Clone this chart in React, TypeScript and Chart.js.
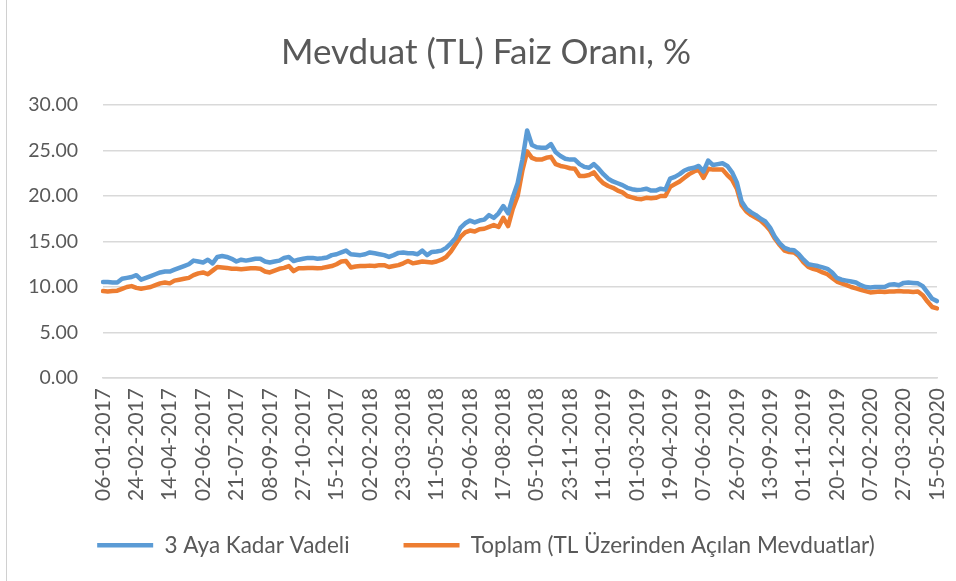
import React, { useEffect, useRef } from "react";
import { Chart, registerables } from "chart.js";

Chart.register(...registerables);

const TITLE = "Mevduat (TL) Faiz Oranı, %";
const SERIES_NAMES = ["3 Aya Kadar Vadeli", "Toplam (TL Üzerinden Açılan Mevduatlar)"];

// weekly categories, 06-01-2017 .. 15-05-2020
const START_DATE = "2017-01-06";
const WEEK_COUNT = 176;
const TICK_EVERY = 7;

const categories: string[] = [];
{
  const base = Date.parse(START_DATE + "T00:00:00Z");
  for (let i = 0; i < WEEK_COUNT; i++) {
    const d = new Date(base + i * 7 * 86400000);
    const dd = String(d.getUTCDate()).padStart(2, "0");
    const mm = String(d.getUTCMonth() + 1).padStart(2, "0");
    categories.push(`${dd}-${mm}-${d.getUTCFullYear()}`);
  }
}

const blueValues: number[] = [
  10.55, 10.55, 10.5, 10.5, 10.9, 11.0, 11.1, 11.3, 10.8, 11.0,
  11.2, 11.4, 11.6, 11.7, 11.7, 11.9, 12.1, 12.3, 12.5, 12.9,
  12.8, 12.7, 13.0, 12.6, 13.3, 13.4, 13.3, 13.1, 12.8, 13.0,
  12.9, 13.0, 13.1, 13.1, 12.8, 12.7, 12.8, 12.9, 13.2, 13.3,
  12.85, 13.0, 13.1, 13.2, 13.2, 13.1, 13.15, 13.25, 13.5, 13.6,
  13.8, 14.0, 13.6, 13.55, 13.5, 13.6, 13.8, 13.7, 13.6, 13.5,
  13.3, 13.5, 13.75, 13.8, 13.7, 13.7, 13.6, 14.0, 13.5, 13.85,
  13.9, 14.0, 14.3, 14.8, 15.4, 16.5, 17.0, 17.3, 17.1, 17.3,
  17.4, 17.9, 17.6, 18.1, 18.9, 18.1, 19.9, 21.4, 24.0, 27.2,
  25.6, 25.35, 25.3, 25.3, 25.7, 24.8, 24.4, 24.1, 24.0, 24.0,
  23.5, 23.2, 23.1, 23.5, 23.0, 22.4, 21.9, 21.6, 21.4, 21.2,
  20.9, 20.75, 20.65, 20.7, 20.8, 20.6, 20.6, 20.8, 20.7, 21.9,
  22.1, 22.4, 22.8, 23.0, 23.1, 23.3, 22.7, 23.9, 23.4, 23.5,
  23.6, 23.3, 22.6, 21.5, 19.4, 18.6, 18.2, 17.9, 17.5, 17.2,
  16.5, 15.5, 14.8, 14.3, 14.1, 14.05, 13.6, 13.0, 12.5, 12.4,
  12.3, 12.15, 12.0, 11.6, 11.0, 10.8, 10.7, 10.6, 10.5, 10.2,
  10.0, 9.95, 10.0, 10.0, 10.0, 10.25, 10.3, 10.2, 10.45, 10.5,
  10.45, 10.4, 10.1, 9.4, 8.7, 8.45,
];

const orangeValues: number[] = [
  9.55, 9.5, 9.55, 9.6, 9.8, 10.0, 10.1, 9.9, 9.8, 9.9,
  10.0, 10.2, 10.4, 10.5, 10.4, 10.7, 10.8, 10.9, 11.0, 11.3,
  11.5, 11.6, 11.4, 11.8, 12.2, 12.15, 12.1, 12.0, 12.0, 11.95,
  12.0, 12.05, 12.05, 12.0, 11.7, 11.6, 11.8, 12.0, 12.1, 12.3,
  11.75, 12.05, 12.05, 12.1, 12.1, 12.05, 12.1, 12.2, 12.3, 12.5,
  12.8, 12.85, 12.15, 12.25, 12.3, 12.3, 12.35, 12.3, 12.4, 12.4,
  12.2, 12.3, 12.4, 12.6, 12.85, 12.6, 12.7, 12.8, 12.75, 12.7,
  12.8, 13.0, 13.3, 13.9, 14.7, 15.5, 16.0, 16.2, 16.1, 16.35,
  16.4, 16.6, 16.8, 16.6, 17.6, 16.7, 18.6, 20.0, 22.8, 24.9,
  24.2, 24.0, 24.0, 24.2, 24.3, 23.5, 23.3, 23.2, 23.05, 23.0,
  22.2, 22.2, 22.3, 22.6, 21.9, 21.4, 21.1, 20.9, 20.6, 20.4,
  20.0, 19.85, 19.7, 19.65, 19.8, 19.75, 19.8, 20.0, 20.0, 21.0,
  21.3, 21.6, 22.0, 22.4, 22.7, 22.9, 22.0, 23.0, 22.9, 22.9,
  22.9, 22.3, 21.8, 20.8, 19.0, 18.3, 17.9, 17.6, 17.3, 16.8,
  16.2, 15.3, 14.6, 14.0, 13.85, 13.8, 13.4, 12.7, 12.2, 12.0,
  11.85, 11.6, 11.4, 11.0, 10.6, 10.4, 10.2, 10.0, 9.85, 9.7,
  9.55, 9.4, 9.45, 9.5, 9.45, 9.5, 9.5, 9.55, 9.5, 9.5,
  9.45, 9.5, 9.1, 8.4, 7.8, 7.65,
];

const Y_MIN = 0;
const Y_MAX = 30;
const Y_STEP = 5;

const COLORS = ["#5B9BD5", "#ED7D31"];
const TEXT = "#595959";
const GRID = "#d9d9d9";
const FONT = "Lato";

// shifts title / legend boxes so they centre like the Excel chart area
const boxShiftPlugin = {
  id: "boxShift",
  afterLayout(chart: any) {
    if (chart.titleBlock) chart.titleBlock.left = 35;
    if (chart.legend) {
      chart.legend.left = 35;
      chart.legend.top = 480;
    }
  },
};

export default function App() {
  const ref = useRef<HTMLCanvasElement | null>(null);

  useEffect(() => {
    if (!ref.current) return;
    const chart = new Chart(ref.current, {
      type: "line",
      data: {
        labels: categories,
        datasets: [
          {
            label: SERIES_NAMES[0],
            data: blueValues,
            borderColor: COLORS[0],
            backgroundColor: COLORS[0],
            borderWidth: 4.5,
            pointRadius: 0,
            tension: 0,
            borderCapStyle: "round",
            borderJoinStyle: "round",
          },
          {
            label: SERIES_NAMES[1],
            data: orangeValues,
            borderColor: COLORS[1],
            backgroundColor: COLORS[1],
            borderWidth: 4.5,
            pointRadius: 0,
            tension: 0,
            borderCapStyle: "round",
            borderJoinStyle: "round",
          },
        ],
      },
      plugins: [boxShiftPlugin],
      options: {
        responsive: false,
        animation: false,
        layout: { padding: { left: 0, right: 19, top: 0, bottom: 16 } },
        plugins: {
          title: {
            display: true,
            text: TITLE,
            color: TEXT,
            font: { family: FONT, size: 35, weight: "normal", lineHeight: 1.2 },
            padding: { top: 32, bottom: 31 },
          },
          legend: {
            position: "bottom",
            maxHeight: 60,
            labels: {
              color: TEXT,
              font: { family: FONT, size: 22.5 },
              usePointStyle: true,
              pointStyle: "line",
              pointStyleWidth: 56,
              boxHeight: 22,
              padding: 54,
            },
          },
          tooltip: { enabled: false },
        },
        scales: {
          x: {
            type: "category",
            offset: false,
            grid: { display: false, drawTicks: false },
            border: { display: true, color: GRID, width: 1.5 },
            afterBuildTicks: (scale: any) => {
              scale.ticks = scale.ticks.filter((t: any) => t.value % TICK_EVERY === 0);
            },
            afterFit: (scale: any) => {
              scale.height = 127;
              scale.paddingLeft = 0;
              scale.paddingRight = 0;
            },
            ticks: {
              autoSkip: false,
              minRotation: 90,
              maxRotation: 90,
              padding: 10,
              color: TEXT,
              font: { family: FONT, size: 21 },
              callback: function (this: any, value: any) {
                return this.getLabelForValue(value);
              },
            },
          },
          y: {
            min: Y_MIN,
            max: Y_MAX,
            afterFit: (scale: any) => {
              scale.width = 103;
            },
            grid: { color: GRID, lineWidth: 1.5, drawTicks: false },
            border: { display: false },
            ticks: {
              stepSize: Y_STEP,
              padding: 25,
              color: TEXT,
              font: { family: FONT, size: 19.5 },
              callback: (v: any) => Number(v).toFixed(2),
            },
          },
        },
      },
    });
    return () => chart.destroy();
  }, []);

  return (
    <div style={{ position: "absolute", left: 0, top: 0, width: 956, height: 581, background: "#fff" }}>
      <div style={{ position: "absolute", left: 6, top: 0, width: 1, height: 581, background: "#d0d0d0" }} />
      <canvas ref={ref} width={956} height={581} style={{ position: "absolute", left: 0, top: 0 }} />
    </div>
  );
}
